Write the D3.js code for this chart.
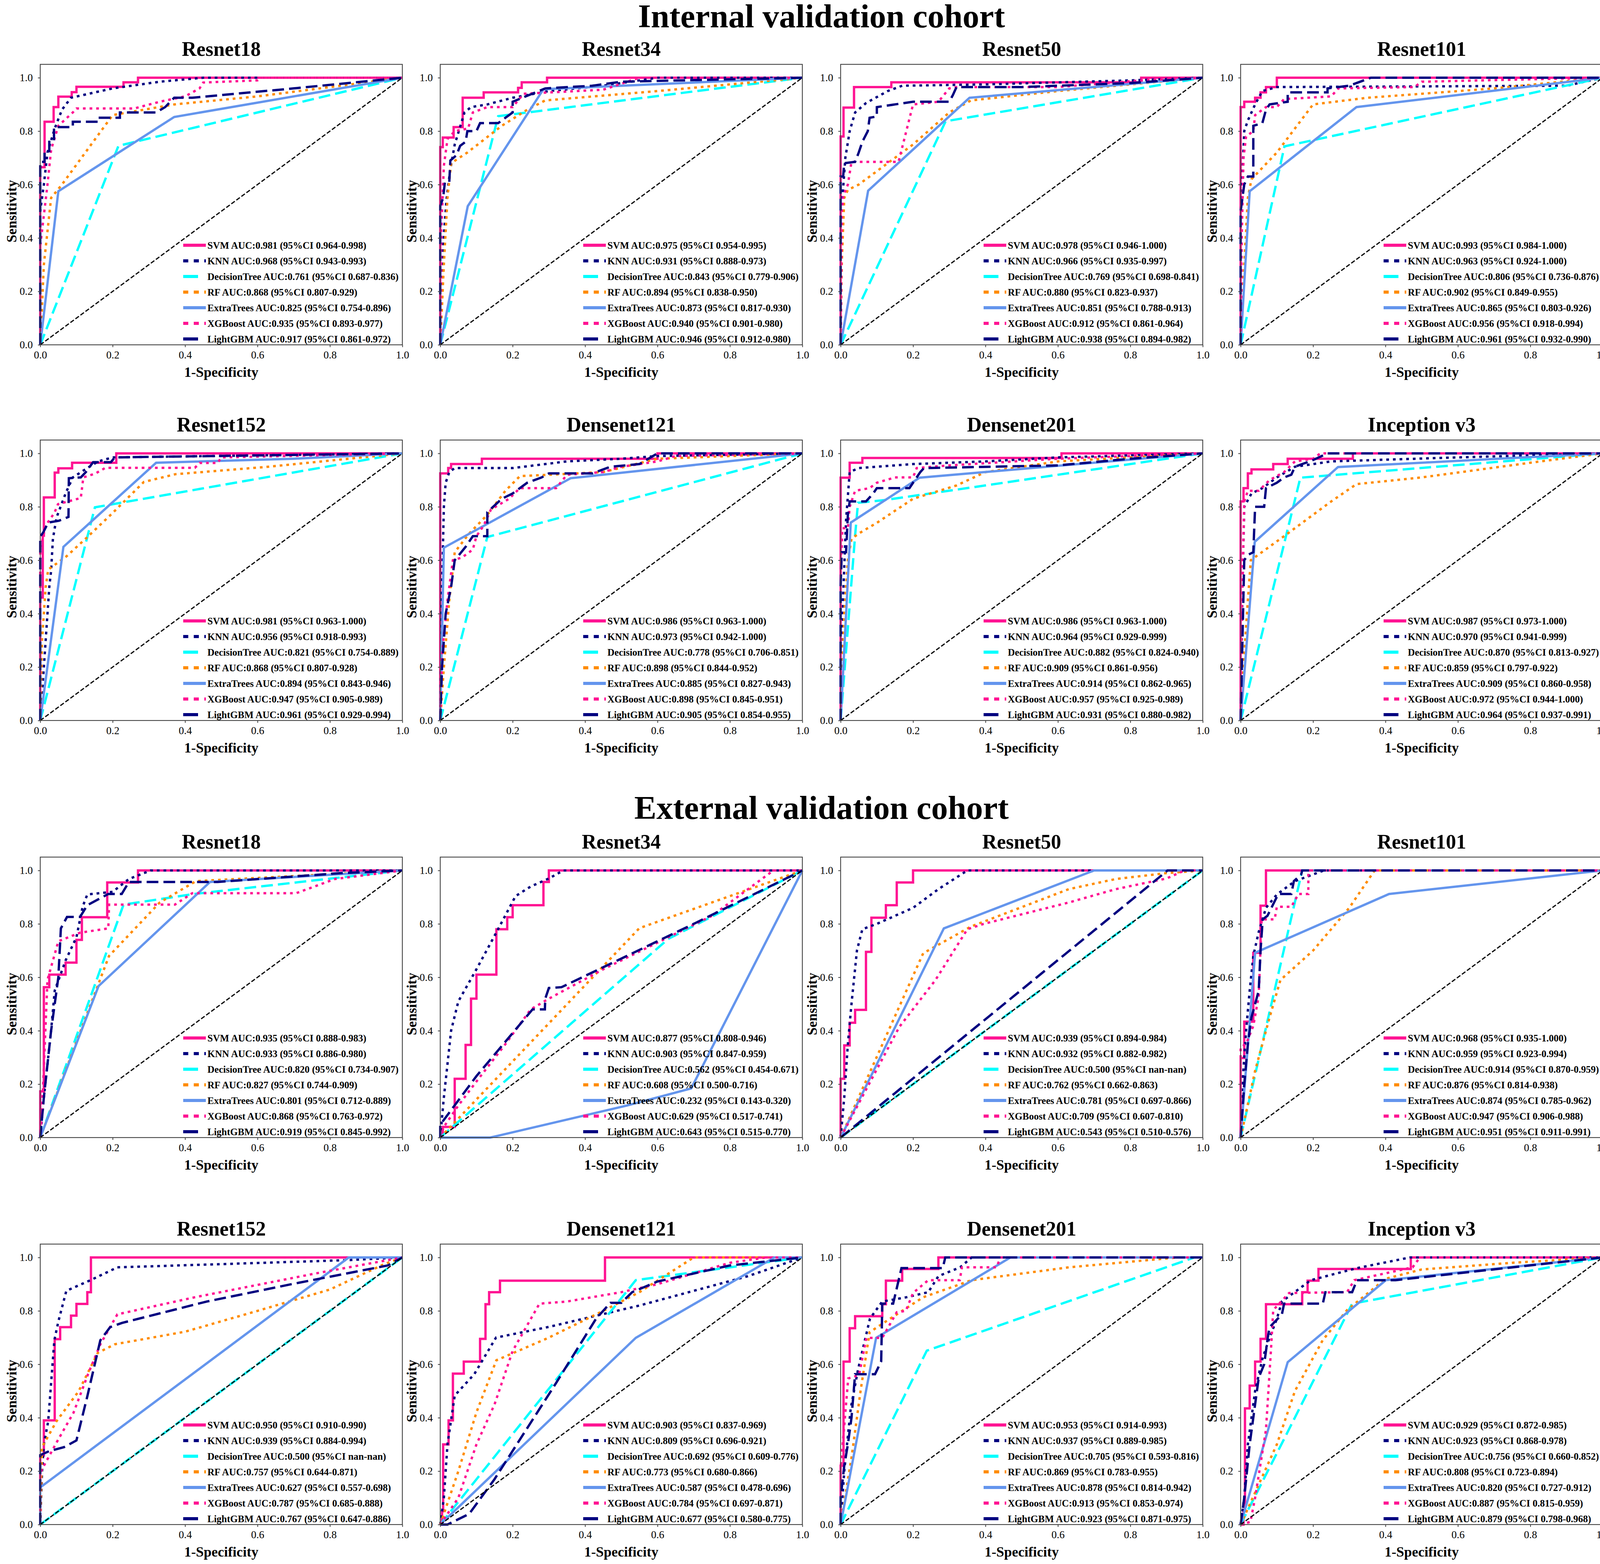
<!DOCTYPE html>
<html><head><meta charset="utf-8">
<script src="https://cdn.jsdelivr.net/npm/d3@7"></script>
<style>html,body{margin:0;padding:0;background:#fff;overflow:hidden}svg{display:block}</style>
</head><body><svg id="chart"></svg>
<script>
// ---------------- DATA ----------------
const models = ["SVM","KNN","DecisionTree","RF","ExtraTrees","XGBoost","LightGBM"];
const cohortTitles = ["Internal validation cohort","External validation cohort"];
const panelTitles = ["Resnet18","Resnet34","Resnet50","Resnet101","Resnet152","Densenet121","Densenet201","Inception v3"];
const xTicks = [0,0.2,0.4,0.6,0.8,1.0];
const yTicks = [0,0.2,0.4,0.6,0.8,1.0];

// AUC labels (AUC (95%CI lo-hi)) per panel, order = models
const auc_int_resnet18 = ["0.981 (95%CI 0.964-0.998)","0.968 (95%CI 0.943-0.993)","0.761 (95%CI 0.687-0.836)","0.868 (95%CI 0.807-0.929)","0.825 (95%CI 0.754-0.896)","0.935 (95%CI 0.893-0.977)","0.917 (95%CI 0.861-0.972)"];
const auc_int_resnet34 = ["0.975 (95%CI 0.954-0.995)","0.931 (95%CI 0.888-0.973)","0.843 (95%CI 0.779-0.906)","0.894 (95%CI 0.838-0.950)","0.873 (95%CI 0.817-0.930)","0.940 (95%CI 0.901-0.980)","0.946 (95%CI 0.912-0.980)"];
const auc_int_resnet50 = ["0.978 (95%CI 0.946-1.000)","0.966 (95%CI 0.935-0.997)","0.769 (95%CI 0.698-0.841)","0.880 (95%CI 0.823-0.937)","0.851 (95%CI 0.788-0.913)","0.912 (95%CI 0.861-0.964)","0.938 (95%CI 0.894-0.982)"];
const auc_int_resnet101 = ["0.993 (95%CI 0.984-1.000)","0.963 (95%CI 0.924-1.000)","0.806 (95%CI 0.736-0.876)","0.902 (95%CI 0.849-0.955)","0.865 (95%CI 0.803-0.926)","0.956 (95%CI 0.918-0.994)","0.961 (95%CI 0.932-0.990)"];
const auc_int_resnet152 = ["0.981 (95%CI 0.963-1.000)","0.956 (95%CI 0.918-0.993)","0.821 (95%CI 0.754-0.889)","0.868 (95%CI 0.807-0.928)","0.894 (95%CI 0.843-0.946)","0.947 (95%CI 0.905-0.989)","0.961 (95%CI 0.929-0.994)"];
const auc_int_densenet121 = ["0.986 (95%CI 0.963-1.000)","0.973 (95%CI 0.942-1.000)","0.778 (95%CI 0.706-0.851)","0.898 (95%CI 0.844-0.952)","0.885 (95%CI 0.827-0.943)","0.898 (95%CI 0.845-0.951)","0.905 (95%CI 0.854-0.955)"];
const auc_int_densenet201 = ["0.986 (95%CI 0.963-1.000)","0.964 (95%CI 0.929-0.999)","0.882 (95%CI 0.824-0.940)","0.909 (95%CI 0.861-0.956)","0.914 (95%CI 0.862-0.965)","0.957 (95%CI 0.925-0.989)","0.931 (95%CI 0.880-0.982)"];
const auc_int_inception = ["0.987 (95%CI 0.973-1.000)","0.970 (95%CI 0.941-0.999)","0.870 (95%CI 0.813-0.927)","0.859 (95%CI 0.797-0.922)","0.909 (95%CI 0.860-0.958)","0.972 (95%CI 0.944-1.000)","0.964 (95%CI 0.937-0.991)"];
const auc_ext_resnet18 = ["0.935 (95%CI 0.888-0.983)","0.933 (95%CI 0.886-0.980)","0.820 (95%CI 0.734-0.907)","0.827 (95%CI 0.744-0.909)","0.801 (95%CI 0.712-0.889)","0.868 (95%CI 0.763-0.972)","0.919 (95%CI 0.845-0.992)"];
const auc_ext_resnet34 = ["0.877 (95%CI 0.808-0.946)","0.903 (95%CI 0.847-0.959)","0.562 (95%CI 0.454-0.671)","0.608 (95%CI 0.500-0.716)","0.232 (95%CI 0.143-0.320)","0.629 (95%CI 0.517-0.741)","0.643 (95%CI 0.515-0.770)"];
const auc_ext_resnet50 = ["0.939 (95%CI 0.894-0.984)","0.932 (95%CI 0.882-0.982)","0.500 (95%CI nan-nan)","0.762 (95%CI 0.662-0.863)","0.781 (95%CI 0.697-0.866)","0.709 (95%CI 0.607-0.810)","0.543 (95%CI 0.510-0.576)"];
const auc_ext_resnet101 = ["0.968 (95%CI 0.935-1.000)","0.959 (95%CI 0.923-0.994)","0.914 (95%CI 0.870-0.959)","0.876 (95%CI 0.814-0.938)","0.874 (95%CI 0.785-0.962)","0.947 (95%CI 0.906-0.988)","0.951 (95%CI 0.911-0.991)"];
const auc_ext_resnet152 = ["0.950 (95%CI 0.910-0.990)","0.939 (95%CI 0.884-0.994)","0.500 (95%CI nan-nan)","0.757 (95%CI 0.644-0.871)","0.627 (95%CI 0.557-0.698)","0.787 (95%CI 0.685-0.888)","0.767 (95%CI 0.647-0.886)"];
const auc_ext_densenet121 = ["0.903 (95%CI 0.837-0.969)","0.809 (95%CI 0.696-0.921)","0.692 (95%CI 0.609-0.776)","0.773 (95%CI 0.680-0.866)","0.587 (95%CI 0.478-0.696)","0.784 (95%CI 0.697-0.871)","0.677 (95%CI 0.580-0.775)"];
const auc_ext_densenet201 = ["0.953 (95%CI 0.914-0.993)","0.937 (95%CI 0.889-0.985)","0.705 (95%CI 0.593-0.816)","0.869 (95%CI 0.783-0.955)","0.878 (95%CI 0.814-0.942)","0.913 (95%CI 0.853-0.974)","0.923 (95%CI 0.871-0.975)"];
const auc_ext_inception = ["0.929 (95%CI 0.872-0.985)","0.923 (95%CI 0.868-0.978)","0.756 (95%CI 0.660-0.852)","0.808 (95%CI 0.723-0.894)","0.820 (95%CI 0.727-0.912)","0.887 (95%CI 0.815-0.959)","0.879 (95%CI 0.798-0.968)"];

// ROC curves: [FPR, TPR] points per model (order = models)
const roc_int_resnet18 = [
 [[0,0],[0,0.665],[0.012,0.665],[0.012,0.835],[0.037,0.835],[0.037,0.89],[0.05,0.89],[0.05,0.929],[0.087,0.929],[0.087,0.946],[0.1,0.946],[0.1,0.966],[0.23,0.966],[0.23,0.983],[0.27,0.983],[0.27,1],[1,1]],
 [[0,0],[0,0.5],[0.01,0.6],[0.02,0.72],[0.04,0.81],[0.06,0.88],[0.085,0.925],[0.2,0.96],[0.33,0.985],[0.45,1],[1,1]],
 [[0,0],[0.216,0.745],[1,1]],
 [[0,0],[0.01,0.3],[0.03,0.55],[0.06,0.6],[0.2,0.86],[0.37,0.9],[0.6,0.93],[1,1]],
 [[0,0],[0.05,0.575],[0.37,0.853],[1,1]],
 [[0,0],[0,0.37],[0.02,0.6],[0.03,0.73],[0.05,0.82],[0.09,0.87],[0.1,0.885],[0.26,0.885],[0.33,0.91],[0.4,0.93],[0.44,0.96],[0.45,0.982],[0.6,0.99],[0.61,1],[1,1]],
 [[0,0],[0,0.685],[0.012,0.685],[0.012,0.725],[0.025,0.725],[0.025,0.77],[0.038,0.77],[0.038,0.815],[0.09,0.815],[0.09,0.835],[0.16,0.835],[0.16,0.85],[0.22,0.85],[0.22,0.87],[0.32,0.87],[0.345,0.89],[0.37,0.925],[0.42,0.925],[0.7,0.96],[1,1]]
];
const roc_int_resnet34 = [
 [[0,0],[0,0.74],[0.007,0.74],[0.007,0.776],[0.037,0.776],[0.037,0.815],[0.062,0.815],[0.062,0.925],[0.12,0.925],[0.12,0.945],[0.215,0.945],[0.215,0.962],[0.225,0.962],[0.225,0.983],[0.295,0.983],[0.295,1],[1,1]],
 [[0,0],[0.007,0.35],[0.017,0.54],[0.027,0.65],[0.04,0.75],[0.067,0.87],[0.085,0.89],[0.13,0.9],[0.2,0.925],[0.3,0.95],[0.45,0.97],[0.6,1],[1,1]],
 [[0,0],[0.16,0.856],[1,1]],
 [[0,0],[0.01,0.3],[0.02,0.55],[0.03,0.68],[0.075,0.72],[0.17,0.82],[0.24,0.88],[0.29,0.915],[0.6,0.95],[1,1]],
 [[0,0],[0.076,0.519],[0.285,0.957],[1,1]],
 [[0,0],[0.003,0.43],[0.01,0.67],[0.02,0.77],[0.04,0.8],[0.077,0.81],[0.09,0.87],[0.13,0.89],[0.2,0.89],[0.23,0.94],[0.45,0.955],[0.55,1],[1,1]],
 [[0,0],[0,0.52],[0.008,0.55],[0.013,0.61],[0.025,0.61],[0.028,0.69],[0.045,0.71],[0.055,0.745],[0.07,0.76],[0.075,0.8],[0.1,0.8],[0.11,0.83],[0.16,0.83],[0.2,0.87],[0.2,0.91],[0.29,0.96],[0.42,0.97],[0.5,0.985],[1,1]]
];
const roc_int_resnet50 = [
 [[0,0],[0,0.78],[0.008,0.78],[0.008,0.888],[0.037,0.888],[0.037,0.965],[0.14,0.965],[0.14,0.983],[0.83,0.983],[0.83,1],[1,1]],
 [[0,0],[0.005,0.55],[0.013,0.7],[0.025,0.8],[0.04,0.87],[0.07,0.905],[0.13,0.95],[0.17,0.97],[0.4,0.975],[0.8,0.99],[1,1]],
 [[0,0],[0.29,0.837],[1,1]],
 [[0,0],[0.003,0.3],[0.01,0.55],[0.02,0.58],[0.05,0.6],[0.2,0.75],[0.3,0.87],[0.36,0.915],[0.6,0.95],[1,1]],
 [[0,0],[0.076,0.577],[0.356,0.925],[1,1]],
 [[0,0],[0.003,0.5],[0.008,0.56],[0.02,0.6],[0.03,0.685],[0.16,0.685],[0.2,0.9],[0.27,0.91],[0.3,0.96],[0.32,0.965],[0.6,0.965],[0.83,0.99],[1,1]],
 [[0,0],[0,0.63],[0.007,0.63],[0.01,0.68],[0.04,0.685],[0.05,0.72],[0.06,0.76],[0.075,0.8],[0.08,0.85],[0.1,0.855],[0.1,0.89],[0.15,0.9],[0.2,0.91],[0.3,0.91],[0.31,0.935],[0.32,0.965],[0.5,0.965],[0.8,0.98],[1,1]]
];
const roc_int_resnet101 = [
 [[0,0],[0,0.89],[0.01,0.89],[0.01,0.91],[0.04,0.91],[0.04,0.925],[0.055,0.925],[0.055,0.945],[0.07,0.945],[0.07,0.965],[0.1,0.965],[0.1,1],[1,1]],
 [[0,0],[0.004,0.6],[0.01,0.8],[0.02,0.84],[0.04,0.9],[0.06,0.95],[0.1,0.965],[0.9,0.97],[1,1]],
 [[0,0],[0.121,0.743],[1,1]],
 [[0,0],[0.01,0.3],[0.02,0.55],[0.03,0.62],[0.1,0.72],[0.2,0.9],[0.35,0.925],[0.7,0.96],[1,1]],
 [[0,0],[0.025,0.575],[0.32,0.89],[1,1]],
 [[0,0],[0.003,0.4],[0.008,0.7],[0.015,0.78],[0.035,0.8],[0.04,0.86],[0.07,0.89],[0.1,0.89],[0.12,0.92],[0.25,0.93],[0.27,0.96],[0.48,0.965],[0.5,0.985],[1,1]],
 [[0,0],[0,0.5],[0.01,0.6],[0.02,0.63],[0.035,0.63],[0.035,0.82],[0.06,0.83],[0.07,0.88],[0.08,0.9],[0.13,0.91],[0.13,0.945],[0.24,0.945],[0.24,0.96],[0.3,0.97],[0.34,0.99],[0.36,1],[1,1]]
];
const roc_int_resnet152 = [
 [[0,0],[0,0.46],[0.007,0.46],[0.007,0.692],[0.01,0.692],[0.01,0.835],[0.04,0.835],[0.04,0.928],[0.05,0.928],[0.05,0.944],[0.088,0.944],[0.088,0.965],[0.21,0.965],[0.21,1],[1,1]],
 [[0,0],[0.01,0.2],[0.025,0.5],[0.03,0.56],[0.035,0.68],[0.045,0.76],[0.07,0.85],[0.09,0.91],[0.13,0.945],[0.16,0.97],[0.2,0.985],[1,1]],
 [[0,0],[0.151,0.798],[1,1]],
 [[0,0],[0.005,0.3],[0.015,0.5],[0.022,0.565],[0.072,0.614],[0.132,0.689],[0.2,0.777],[0.286,0.893],[0.373,0.922],[0.63,0.95],[1,1]],
 [[0,0],[0.064,0.65],[0.32,0.965],[0.7,0.98],[1,1]],
 [[0,0],[0,0.65],[0.005,0.67],[0.015,0.73],[0.039,0.777],[0.049,0.81],[0.112,0.833],[0.119,0.91],[0.153,0.925],[0.18,0.946],[0.427,0.946],[0.44,0.964],[0.49,0.964],[0.5,0.985],[1,1]],
 [[0,0],[0,0.688],[0.009,0.706],[0.022,0.741],[0.052,0.748],[0.078,0.762],[0.079,0.907],[0.112,0.91],[0.126,0.93],[0.146,0.967],[0.195,0.967],[0.206,0.985],[1,1]]
];
const roc_int_densenet121 = [
 [[0,0],[0,0.925],[0.022,0.925],[0.022,0.945],[0.03,0.945],[0.03,0.96],[0.115,0.96],[0.115,0.98],[0.6,0.98],[0.6,1],[1,1]],
 [[0,0],[0.005,0.5],[0.01,0.8],[0.015,0.89],[0.025,0.93],[0.04,0.945],[0.2,0.945],[0.35,0.97],[0.5,0.98],[0.6,0.99],[1,1]],
 [[0,0],[0.13,0.687],[1,1]],
 [[0,0],[0.01,0.2],[0.025,0.45],[0.04,0.63],[0.08,0.7],[0.13,0.77],[0.18,0.86],[0.22,0.915],[0.3,0.92],[0.45,0.93],[0.6,0.98],[1,1]],
 [[0,0],[0.01,0.647],[0.36,0.907],[1,1]],
 [[0,0],[0.005,0.25],[0.02,0.45],[0.035,0.6],[0.06,0.61],[0.09,0.64],[0.1,0.69],[0.12,0.73],[0.14,0.79],[0.19,0.83],[0.22,0.87],[0.32,0.87],[0.35,0.92],[0.45,0.93],[0.5,0.95],[0.6,0.97],[0.65,0.99],[1,1]],
 [[0,0],[0.005,0.2],[0.015,0.4],[0.03,0.5],[0.04,0.6],[0.07,0.65],[0.09,0.69],[0.13,0.69],[0.13,0.78],[0.17,0.83],[0.2,0.85],[0.24,0.89],[0.28,0.91],[0.3,0.925],[0.42,0.925],[0.47,0.95],[0.55,0.96],[0.6,1],[1,1]]
];
const roc_int_densenet201 = [
 [[0,0],[0,0.909],[0.025,0.909],[0.025,0.965],[0.06,0.965],[0.06,0.983],[0.61,0.983],[0.61,1],[1,1]],
 [[0,0],[0.005,0.4],[0.015,0.75],[0.025,0.93],[0.05,0.945],[0.2,0.96],[0.4,0.97],[0.6,0.985],[1,1]],
 [[0,0],[0.04,0.693],[0.048,0.815],[0.12,0.825],[0.4,0.88],[0.7,0.94],[1,1]],
 [[0,0],[0.01,0.4],[0.02,0.6],[0.03,0.68],[0.05,0.7],[0.1,0.74],[0.2,0.83],[0.32,0.88],[0.4,0.93],[0.6,0.97],[1,1]],
 [[0,0],[0.028,0.741],[0.218,0.909],[1,1]],
 [[0,0],[0,0.55],[0.005,0.72],[0.02,0.72],[0.025,0.8],[0.04,0.86],[0.08,0.87],[0.1,0.89],[0.15,0.91],[0.2,0.91],[0.21,0.945],[0.3,0.955],[0.6,0.98],[1,1]],
 [[0,0],[0,0.5],[0.003,0.63],[0.015,0.63],[0.02,0.77],[0.025,0.82],[0.07,0.82],[0.09,0.85],[0.1,0.87],[0.19,0.87],[0.2,0.89],[0.22,0.93],[0.23,0.945],[0.6,0.955],[0.8,0.98],[1,1]]
];
const roc_int_inception = [
 [[0,0],[0,0.82],[0.008,0.82],[0.008,0.87],[0.02,0.87],[0.02,0.925],[0.03,0.925],[0.03,0.94],[0.09,0.94],[0.09,0.96],[0.13,0.96],[0.13,0.98],[0.31,0.98],[0.31,1],[1,1]],
 [[0,0],[0.005,0.5],[0.01,0.8],[0.03,0.85],[0.06,0.87],[0.1,0.91],[0.15,0.95],[0.25,0.97],[0.6,0.985],[1,1]],
 [[0,0],[0.165,0.909],[1,1]],
 [[0,0],[0.01,0.25],[0.02,0.45],[0.028,0.6],[0.13,0.7],[0.25,0.82],[0.32,0.885],[0.5,0.91],[0.8,0.965],[1,1]],
 [[0,0],[0.039,0.669],[0.269,0.949],[1,1]],
 [[0,0],[0.003,0.4],[0.007,0.62],[0.01,0.82],[0.02,0.86],[0.05,0.86],[0.08,0.9],[0.12,0.93],[0.15,0.97],[0.2,0.98],[0.22,1],[1,1]],
 [[0,0],[0.005,0.3],[0.01,0.6],[0.02,0.62],[0.035,0.63],[0.04,0.8],[0.065,0.8],[0.07,0.87],[0.1,0.89],[0.12,0.91],[0.14,0.92],[0.15,0.95],[0.18,0.965],[0.2,0.975],[0.24,1],[1,1]]
];
const roc_ext_resnet18 = [
 [[0,0],[0,0.173],[0.01,0.173],[0.01,0.563],[0.025,0.563],[0.025,0.61],[0.07,0.61],[0.07,0.655],[0.1,0.655],[0.1,0.74],[0.115,0.74],[0.115,0.825],[0.185,0.825],[0.185,0.955],[0.27,0.955],[0.27,1],[1,1]],
 [[0,0],[0.01,0.15],[0.03,0.4],[0.04,0.55],[0.07,0.663],[0.1,0.75],[0.117,0.864],[0.13,0.91],[0.2,0.92],[0.245,0.968],[0.305,1],[1,1]],
 [[0,0],[0.23,0.872],[0.425,0.912],[1,1]],
 [[0,0],[0.19,0.68],[0.33,0.88],[0.43,0.96],[1,1]],
 [[0,0],[0.161,0.567],[0.469,0.957],[1,1]],
 [[0,0],[0.005,0.1],[0.02,0.59],[0.05,0.735],[0.11,0.767],[0.188,0.783],[0.19,0.872],[0.372,0.872],[0.42,0.915],[0.707,0.915],[0.814,0.968],[1,1]],
 [[0,0],[0.01,0.15],[0.03,0.4],[0.05,0.6],[0.057,0.783],[0.074,0.826],[0.11,0.826],[0.13,0.87],[0.188,0.912],[0.225,0.912],[0.245,0.957],[0.49,0.957],[0.83,0.99],[1,1]]
];
const roc_ext_resnet34 = [
 [[0,0],[0.007,0],[0.007,0.04],[0.04,0.04],[0.04,0.22],[0.07,0.22],[0.07,0.347],[0.085,0.347],[0.085,0.52],[0.1,0.52],[0.1,0.61],[0.155,0.61],[0.155,0.78],[0.185,0.78],[0.185,0.825],[0.2,0.825],[0.2,0.87],[0.285,0.87],[0.285,0.957],[0.3,0.957],[0.3,1],[1,1]],
 [[0,0],[0.01,0.15],[0.03,0.4],[0.05,0.51],[0.1,0.63],[0.155,0.768],[0.208,0.904],[0.25,0.94],[0.3,0.97],[0.34,1],[1,1]],
 [[0,0],[0.63,0.744],[1,1]],
 [[0,0],[0.55,0.784],[1,1]],
 [[0,0],[0.138,0],[0.516,0.12],[0.693,0.184],[1,1]],
 [[0,0],[0.01,0.04],[0.05,0.12],[0.1,0.21],[0.18,0.35],[0.25,0.48],[0.3,0.52],[0.45,0.63],[0.6,0.73],[0.75,0.83],[0.92,1],[1,1]],
 [[0,0],[0,0.048],[0.1,0.23],[0.255,0.48],[0.289,0.48],[0.29,0.52],[0.3,0.56],[0.335,0.563],[0.5,0.67],[0.7,0.8],[0.85,0.9],[1,1]]
];
const roc_ext_resnet50 = [
 [[0,0],[0,0.22],[0.01,0.22],[0.01,0.345],[0.025,0.345],[0.025,0.43],[0.04,0.43],[0.04,0.478],[0.07,0.478],[0.07,0.695],[0.085,0.695],[0.085,0.823],[0.125,0.823],[0.125,0.87],[0.155,0.87],[0.155,0.955],[0.2,0.955],[0.2,1],[1,1]],
 [[0,0],[0.01,0.15],[0.02,0.35],[0.03,0.5],[0.045,0.7],[0.06,0.78],[0.1,0.8],[0.15,0.83],[0.2,0.86],[0.27,0.93],[0.35,1],[1,1]],
 [[0,0],[1,1]],
 [[0,0],[0.228,0.69],[0.36,0.79],[0.63,0.93],[0.76,0.968],[0.9,0.99],[1,1]],
 [[0,0],[0.285,0.783],[0.7,1],[1,1]],
 [[0,0],[0.162,0.414],[0.262,0.59],[0.35,0.78],[0.395,0.8],[0.63,0.88],[0.76,0.93],[0.9,0.97],[0.95,1],[1,1]],
 [[0,0],[0.903,1],[1,1]]
];
const roc_ext_resnet101 = [
 [[0,0],[0,0.298],[0.01,0.298],[0.01,0.434],[0.035,0.434],[0.035,0.692],[0.055,0.692],[0.055,0.868],[0.07,0.868],[0.07,1],[1,1]],
 [[0,0],[0.005,0.2],[0.015,0.4],[0.025,0.55],[0.035,0.68],[0.05,0.77],[0.07,0.86],[0.1,0.91],[0.15,0.96],[0.23,1],[1,1]],
 [[0,0],[0.17,1],[1,1]],
 [[0,0],[0.04,0.25],[0.08,0.45],[0.11,0.59],[0.2,0.7],[0.3,0.86],[0.37,1],[1,1]],
 [[0,0],[0.04,0.692],[0.41,0.912],[1,1]],
 [[0,0],[0,0.338],[0.015,0.35],[0.035,0.418],[0.05,0.53],[0.058,0.817],[0.094,0.817],[0.1,0.864],[0.14,0.864],[0.16,0.912],[0.187,0.912],[0.187,1],[1,1]],
 [[0,0],[0.01,0.2],[0.02,0.35],[0.03,0.45],[0.05,0.55],[0.055,0.7],[0.061,0.817],[0.074,0.83],[0.104,0.912],[0.14,0.912],[0.147,0.96],[0.167,0.984],[0.17,1],[1,1]]
];
const roc_ext_resnet152 = [
 [[0,0],[0,0.259],[0.01,0.259],[0.01,0.39],[0.04,0.39],[0.04,0.694],[0.055,0.694],[0.055,0.739],[0.085,0.739],[0.085,0.782],[0.1,0.782],[0.1,0.826],[0.13,0.826],[0.13,0.87],[0.14,0.87],[0.14,1],[1,1]],
 [[0,0],[0.005,0.2],[0.01,0.3],[0.022,0.387],[0.039,0.69],[0.05,0.76],[0.072,0.875],[0.139,0.915],[0.213,0.963],[0.5,0.975],[0.85,0.99],[1,1]],
 [[0,0],[1,1]],
 [[0,0],[0.005,0.29],[0.045,0.387],[0.106,0.499],[0.159,0.643],[0.206,0.675],[0.4,0.722],[0.6,0.8],[0.8,0.88],[0.95,0.975],[1,1]],
 [[0,0],[0,0.139],[0.852,1],[1,1]],
 [[0,0],[0,0.195],[0.045,0.307],[0.092,0.419],[0.132,0.563],[0.166,0.675],[0.213,0.787],[0.427,0.851],[0.76,0.94],[1,1]],
 [[0,0],[0,0.26],[0.025,0.275],[0.066,0.29],[0.1,0.315],[0.13,0.48],[0.166,0.69],[0.193,0.739],[0.226,0.755],[0.46,0.835],[0.694,0.9],[0.96,0.97],[1,1]]
];
const roc_ext_densenet121 = [
 [[0,0],[0.005,0],[0.005,0.05],[0.008,0.05],[0.008,0.3],[0.023,0.3],[0.023,0.39],[0.035,0.39],[0.035,0.565],[0.065,0.565],[0.065,0.61],[0.11,0.61],[0.11,0.695],[0.125,0.695],[0.125,0.825],[0.135,0.825],[0.135,0.87],[0.165,0.87],[0.165,0.913],[0.455,0.913],[0.455,1],[1,1]],
 [[0,0],[0.01,0.1],[0.02,0.3],[0.04,0.483],[0.094,0.563],[0.154,0.7],[0.3,0.74],[0.55,0.82],[0.85,0.93],[1,1]],
 [[0,0],[0.54,0.915],[1,1]],
 [[0,0],[0.05,0.2],[0.1,0.42],[0.155,0.615],[0.3,0.7],[0.45,0.8],[0.55,0.87],[0.7,1],[1,1]],
 [[0,0],[0.54,0.699],[0.923,1],[1,1]],
 [[0,0],[0.05,0.1],[0.1,0.3],[0.15,0.45],[0.2,0.65],[0.274,0.827],[0.35,0.835],[0.5,0.87],[0.6,0.9],[0.8,0.98],[0.9,1],[1,1]],
 [[0,0],[0.02,0],[0.08,0.04],[0.15,0.17],[0.32,0.53],[0.43,0.77],[0.47,0.83],[0.5,0.83],[0.53,0.87],[0.6,0.91],[0.8,0.97],[1,1]]
];
const roc_ext_densenet201 = [
 [[0,0],[0,0.22],[0.008,0.22],[0.008,0.61],[0.025,0.61],[0.025,0.735],[0.04,0.735],[0.04,0.78],[0.115,0.78],[0.115,0.825],[0.125,0.825],[0.125,0.913],[0.17,0.913],[0.17,0.957],[0.27,0.957],[0.27,1],[1,1]],
 [[0,0],[0.01,0.2],[0.028,0.435],[0.048,0.58],[0.081,0.771],[0.115,0.835],[0.182,0.851],[0.242,0.87],[0.27,0.93],[0.33,0.963],[0.362,1],[1,1]],
 [[0,0],[0.238,0.651],[0.977,1],[1,1]],
 [[0,0],[0.03,0.25],[0.055,0.5],[0.08,0.72],[0.128,0.763],[0.228,0.851],[0.362,0.915],[0.63,0.963],[0.93,1],[1,1]],
 [[0,0],[0.098,0.699],[0.469,1],[1,1]],
 [[0,0],[0,0.21],[0.021,0.547],[0.051,0.56],[0.071,0.699],[0.115,0.699],[0.155,0.795],[0.18,0.8],[0.2,0.867],[0.242,0.915],[0.329,0.915],[0.335,0.963],[0.43,0.963],[0.442,1],[1,1]],
 [[0,0],[0,0.1],[0.01,0.22],[0.02,0.3],[0.03,0.4],[0.04,0.563],[0.095,0.563],[0.112,0.611],[0.115,0.827],[0.145,0.827],[0.168,0.96],[0.282,0.96],[0.289,1],[1,1]]
];
const roc_ext_inception = [
 [[0,0],[0.008,0],[0.008,0.05],[0.012,0.05],[0.012,0.435],[0.025,0.435],[0.025,0.52],[0.04,0.52],[0.04,0.61],[0.055,0.61],[0.055,0.695],[0.07,0.695],[0.07,0.825],[0.17,0.825],[0.17,0.87],[0.185,0.87],[0.185,0.913],[0.215,0.913],[0.215,0.957],[0.47,0.957],[0.47,1],[1,1]],
 [[0,0],[0.01,0.1],[0.02,0.3],[0.04,0.5],[0.06,0.62],[0.08,0.7],[0.1,0.77],[0.114,0.835],[0.194,0.915],[0.321,0.96],[0.468,1],[1,1]],
 [[0,0],[0.127,0.339],[0.308,0.827],[1,1]],
 [[0,0],[0.05,0.15],[0.1,0.3],[0.15,0.5],[0.227,0.691],[0.294,0.803],[0.4,0.92],[0.5,0.955],[0.75,0.98],[1,1]],
 [[0,0],[0.13,0.608],[0.401,0.915],[1,1]],
 [[0,0],[0.027,0.01],[0.04,0.1],[0.07,0.355],[0.084,0.659],[0.09,0.803],[0.134,0.867],[0.294,0.87],[0.314,0.915],[0.475,0.963],[0.495,1],[1,1]],
 [[0,0],[0.01,0.1],[0.025,0.3],[0.04,0.45],[0.05,0.55],[0.065,0.6],[0.075,0.7],[0.08,0.739],[0.114,0.787],[0.12,0.827],[0.227,0.827],[0.234,0.87],[0.308,0.87],[0.321,0.915],[0.428,0.915],[1,1]]
];

const internalCurves = [roc_int_resnet18, roc_int_resnet34, roc_int_resnet50, roc_int_resnet101, roc_int_resnet152, roc_int_densenet121, roc_int_densenet201, roc_int_inception];
const internalAUC = [auc_int_resnet18, auc_int_resnet34, auc_int_resnet50, auc_int_resnet101, auc_int_resnet152, auc_int_densenet121, auc_int_densenet201, auc_int_inception];
const externalCurves = [roc_ext_resnet18, roc_ext_resnet34, roc_ext_resnet50, roc_ext_resnet101, roc_ext_resnet152, roc_ext_densenet121, roc_ext_densenet201, roc_ext_inception];
const externalAUC = [auc_ext_resnet18, auc_ext_resnet34, auc_ext_resnet50, auc_ext_resnet101, auc_ext_resnet152, auc_ext_densenet121, auc_ext_densenet201, auc_ext_inception];

// ---------------- STYLE / LAYOUT ----------------
const W = 4134, H = 4005;
const FONT = "'Liberation Serif','Times New Roman',serif";
const lineColors = ["#FF1493","#000080","#00FFFF","#FF8C00","#6495ED","#FF1493","#000080"];
const lineDash   = [null,"7,10","30,13","7,10",null,"7,10","30,13"];
const legendDash = [null,"13,14","38,40","13,14",null,"13,14","38,40"];
const LW = 6;
const colLeft = [103,1127,2152,3176];
const rowY1 = [199,1161,2229,3220];   // pixel y of sensitivity 1.0
const plotW = 927, unitH = 684;

const svg = d3.select("#chart").attr("width", W).attr("height", H)
  .style("font-family", FONT);
svg.append("rect").attr("width", W).attr("height", H).attr("fill", "#fff");

svg.append("text").attr("x", 2103).attr("y", 70).attr("text-anchor","middle")
  .attr("font-size", 85).attr("font-weight","bold").text(cohortTitles[0]);
svg.append("text").attr("x", 2103).attr("y", 2097).attr("text-anchor","middle")
  .attr("font-size", 85).attr("font-weight","bold").text(cohortTitles[1]);

function drawPanel(row, col, title, curves, aucs) {
  const left = colLeft[col], y1 = rowY1[row];
  const top = y1 - 0.05 * unitH;
  const plotH = 1.05 * unitH;
  const g = svg.append("g").attr("transform", `translate(${left},${top})`);
  const x = d3.scaleLinear().domain([0,1]).range([0, plotW]);
  const y = d3.scaleLinear().domain([0,1.05]).range([plotH, 0]);

  // title
  g.append("text").attr("x", plotW/2).attr("y", -22).attr("text-anchor","middle")
    .attr("font-size", 52).attr("font-weight","bold").text(title);

  const clip = "clip-" + row + "-" + col;
  g.append("clipPath").attr("id", clip).append("rect")
    .attr("x", -4).attr("y", -4).attr("width", plotW + 8).attr("height", plotH + 8);
  const plot = g.append("g").attr("clip-path", `url(#${clip})`);

  const line = d3.line().x(d => x(d[0])).y(d => y(d[1]));
  curves.forEach((pts, i) => {
    plot.append("path").attr("d", line(pts)).attr("fill","none")
      .attr("stroke", lineColors[i]).attr("stroke-width", LW)
      .attr("stroke-dasharray", lineDash[i])
      .attr("stroke-linejoin","miter").attr("stroke-linecap","butt");
  });
  // chance diagonal
  plot.append("path").attr("d", line([[0,0],[1,1]])).attr("fill","none")
    .attr("stroke","#000").attr("stroke-width", 3).attr("stroke-dasharray","11,5");

  // axes
  const xa = g.append("g").attr("transform", `translate(0,${plotH})`)
    .call(d3.axisBottom(x).tickValues(xTicks).tickFormat(d3.format(".1f")).tickSize(6).tickPadding(10));
  const ya = g.append("g")
    .call(d3.axisLeft(y).tickValues(yTicks).tickFormat(d3.format(".1f")).tickSize(6).tickPadding(13));
  [xa, ya].forEach(a => {
    a.select(".domain").remove();
    a.selectAll("line").attr("stroke","#444").attr("stroke-width",2);
    a.selectAll("text").attr("font-size", 27).attr("font-family", FONT).attr("fill","#000");
  });
  g.append("rect").attr("width", plotW).attr("height", plotH)
    .attr("fill","none").attr("stroke","#444").attr("stroke-width", 2.2);

  // axis labels
  g.append("text").attr("x", plotW/2).attr("y", plotH + 82).attr("text-anchor","middle")
    .attr("font-size", 36).attr("font-weight","bold").text("1-Specificity");
  g.append("text").attr("transform", `translate(-61,${y(0.5)}) rotate(-90)`)
    .attr("text-anchor","middle").attr("font-size", 36).attr("font-weight","bold").text("Sensitivity");

  // legend
  const lg = g.append("g").attr("transform", `translate(366,${y(1) + 429})`);
  models.forEach((m, i) => {
    const yy = i * 40;
    lg.append("line").attr("x1", 0).attr("x2", 58).attr("y1", yy).attr("y2", yy)
      .attr("stroke", lineColors[i]).attr("stroke-width", LW + 2)
      .attr("stroke-dasharray", legendDash[i]);
    lg.append("text").attr("x", 62).attr("y", yy).attr("dy","0.34em")
      .attr("font-size", 25).attr("font-weight","bold").text(`${m} AUC:${aucs[i]}`);
  });
}

panelTitles.forEach((t, k) => {
  drawPanel(Math.floor(k/4), k%4, t, internalCurves[k], internalAUC[k]);
  drawPanel(2 + Math.floor(k/4), k%4, t, externalCurves[k], externalAUC[k]);
});
</script>
</body></html>
